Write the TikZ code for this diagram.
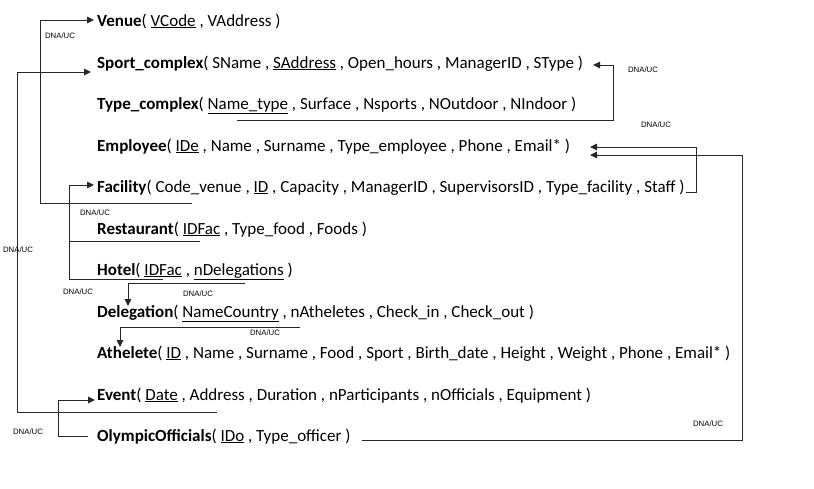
\documentclass[tikz,border=0pt]{standalone}
\usepackage{fontspec}
\setmainfont{Carlito}
\newfontfamily\labfont{Liberation Sans}
\usetikzlibrary{arrows.meta}
\begin{document}
\begin{tikzpicture}[x=1pt,y=-1pt,
  rel/.style={anchor=base west,inner sep=0pt,font=\fontsize{17}{20}\selectfont},
  dna/.style={inner sep=0pt,font=\labfont\fontsize{7.8}{9}\selectfont},
  conn/.style={line width=0.9pt,black!85},
  arr/.style={conn,-{Triangle[length=7pt,width=6.5pt]}}]
\useasboundingbox (0,0) rectangle (814,488);
\fill[white] (0,0) rectangle (814,488);

% relations
\node[rel] (venue) at (97,26) {\textbf{Venue}( \underline{VCode} , VAddress )};
\node[rel] (sport) at (97,68) {\textbf{Sport\_complex}( SName , \underline{SAddress} , Open\_hours , ManagerID , SType )};
\node[rel] (typec) at (97,109) {\textbf{Type\_complex}( \underline{Name\_type} , Surface , Nsports , NOutdoor , NIndoor )};
\node[rel] (emp) at (97,151) {\textbf{Employee}( \underline{IDe} , Name , Surname , Type\_employee , Phone , Email* )};
\node[rel] (fac) at (97,192) {\textbf{Facility}( Code\_venue , \underline{ID} , Capacity , ManagerID , SupervisorsID , Type\_facility , Staff )};
\node[rel] (rest) at (97,234) {\textbf{Restaurant}( \underline{IDFac} , Type\_food , Foods )};
\node[rel] (hotel) at (97,275) {\textbf{Hotel}( \underline{IDFac} , \underline{nDelegations} )};
\node[rel] (deleg) at (97,317) {\textbf{Delegation}( \underline{NameCountry} , nAtheletes , Check\_in , Check\_out )};
\node[rel] (ath) at (97,358) {\textbf{Athelete}( \underline{ID} , Name , Surname , Food , Sport , Birth\_date , Height , Weight , Phone , Email* )};
\node[rel] (event) at (97,400) {\textbf{Event}( \underline{Date} , Address , Duration , nParticipants , nOfficials , Equipment )};
\node[rel] (olymp) at (97,441) {\textbf{OlympicOfficials}( \underline{IDo} , Type\_officer )};

% connector end points
\coordinate (c1s) at (192,203); \coordinate (c1t) at (94,20);
\coordinate (c2s) at (217,412); \coordinate (c2t) at (91,72);
\coordinate (c3s) at (237,120); \coordinate (c3t) at (593,65);
\coordinate (c4s) at (686,192); \coordinate (c4t) at (590,147);
\coordinate (c5s) at (362,440); \coordinate (c5t) at (590,155);
\coordinate (c6r) at (200,241); \coordinate (c6s) at (163,279); \coordinate (c6t) at (94,185);
\coordinate (c7s) at (245,283); \coordinate (c7t) at (128,306);
\coordinate (c8s) at (300,327); \coordinate (c8t) at (120,347);
\coordinate (c9s) at (88,436); \coordinate (c9t) at (95,400);

% connectors
\draw[arr] (c1s) -- (40,203) -- (40,20) -- (c1t);
\draw[arr] (c2s) -- (17,412) -- (17,72) -- (c2t);
\draw[arr] (c3s) -- (613,120) -- (613,65) -- (c3t);
\draw[arr] (c4s) -- (696,192) -- (696,147) -- (c4t);
\draw[arr] (c5s) -- (742,440) -- (742,155) -- (c5t);
\draw[conn] (c6r) -- (69,241);
\draw[arr] (c6s) -- (69,279) -- (69,185) -- (c6t);
\draw[arr] (c7s) -- (128,283) -- (c7t);
\draw[arr] (c8s) -- (120,327) -- (c8t);
\draw[arr] (c9s) -- (58,436) -- (58,400) -- (c9t);

% labels
\node[dna] (l1) at (60,36) {DNA/UC};
\node[dna] (l2) at (643,70) {DNA/UC};
\node[dna] (l3) at (656,125) {DNA/UC};
\node[dna] (l4) at (95,213) {DNA/UC};
\node[dna] (l5) at (18,250) {DNA/UC};
\node[dna] (l6) at (78,292) {DNA/UC};
\node[dna] (l7) at (198,294) {DNA/UC};
\node[dna] (l8) at (265,333) {DNA/UC};
\node[dna] (l9) at (708,424) {DNA/UC};
\node[dna] (l10) at (28,432) {DNA/UC};
\end{tikzpicture}
\end{document}
